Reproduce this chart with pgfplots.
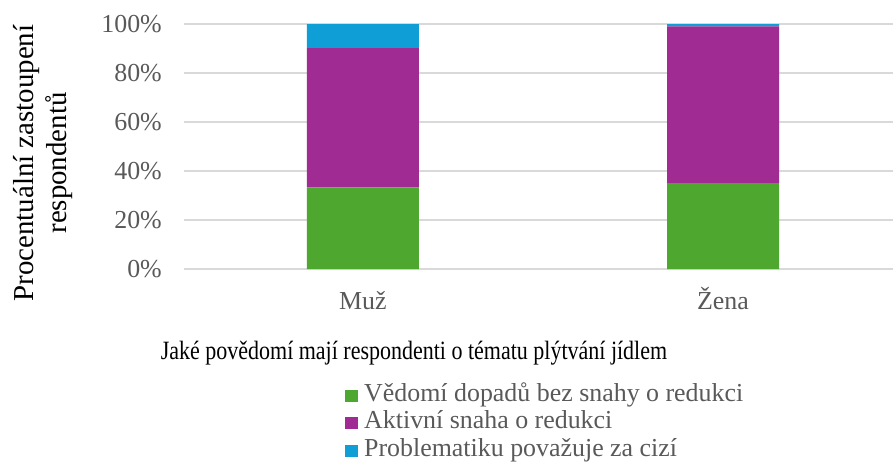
\documentclass[border=0pt]{standalone}
\usepackage{fontspec}
\setmainfont{Liberation Serif}
\usepackage{pgfplots}
\pgfplotsset{compat=1.18}
\usetikzlibrary{calc}

\definecolor{zelena}{HTML}{4EA72E}
\definecolor{fialova}{HTML}{A02B93}
\definecolor{modra}{HTML}{0F9ED5}
\definecolor{mrizka}{HTML}{D9D9D9}
\definecolor{sedytext}{HTML}{595959}

\begin{document}
\begin{tikzpicture}
\begin{axis}[
  at={(0,0)}, anchor=south west,
  scale only axis, width=709bp, height=245bp,
  ybar stacked, bar width=112bp,
  xmin=-0.497, xmax=1.472, ymin=0, ymax=100,
  xtick={0,1}, xticklabels={Muž,Žena},
  ytick={0,20,40,60,80,100},
  yticklabel={\pgfmathprintnumber{\tick}\%},
  /pgf/number format/assume math mode=true,
  ymajorgrids, grid style={draw=mrizka, line width=1.5bp},
  axis line style={draw=none}, major tick length=0pt,
  tick label style={font=\fontsize{26}{30}\selectfont, text=sedytext},
  yticklabel style={anchor=east, inner sep=0pt, xshift=-22bp},
  xticklabel style={anchor=base, inner sep=0pt, yshift=-40bp},
  legend cell align=left,
  legend image code/.code={\fill[#1] (0bp,-6bp) rectangle (13bp,6bp);},
  legend style={at={(0.2271,-0.4612)}, anchor=north west, draw=none,
    fill=none, inner sep=0pt, row sep=0bp, column sep=6bp,
    font=\fontsize{26}{28}\selectfont, text=sedytext,
    nodes={inner sep=0pt, text height=19bp, text depth=8.5bp}},
]
\addplot[fill=zelena, draw=none] coordinates {(0,33.3) (1,35.1)};
\addplot[fill=fialova, draw=none] coordinates {(0,56.9) (1,63.9)};
\addplot[fill=modra, draw=none] coordinates {(0,9.8) (1,1.0)};
\legend{Vědomí dopadů bez snahy o redukci, Aktivní snaha o redukci, Problematiku považuje za cizí}
\end{axis}
\node[rotate=90, align=center, font=\fontsize{29}{34}\selectfont]
  at ($(current axis.south west)+(-141bp,106bp)$)
  {Procentuální zastoupení\\respondentů};
\node[inner sep=0pt]
  at ($(current axis.south west)+(230bp,-84bp)$)
  {\scalebox{0.833}[1]{\fontsize{26.5}{30}\selectfont Jaké povědomí mají respondenti o tématu plýtvání jídlem}};
\pgfresetboundingbox
\path[use as bounding box] ($(current axis.south west)+(-184bp,-195bp)$)
  rectangle ($(current axis.south west)+(709bp,269bp)$);
\end{tikzpicture}
\end{document}
